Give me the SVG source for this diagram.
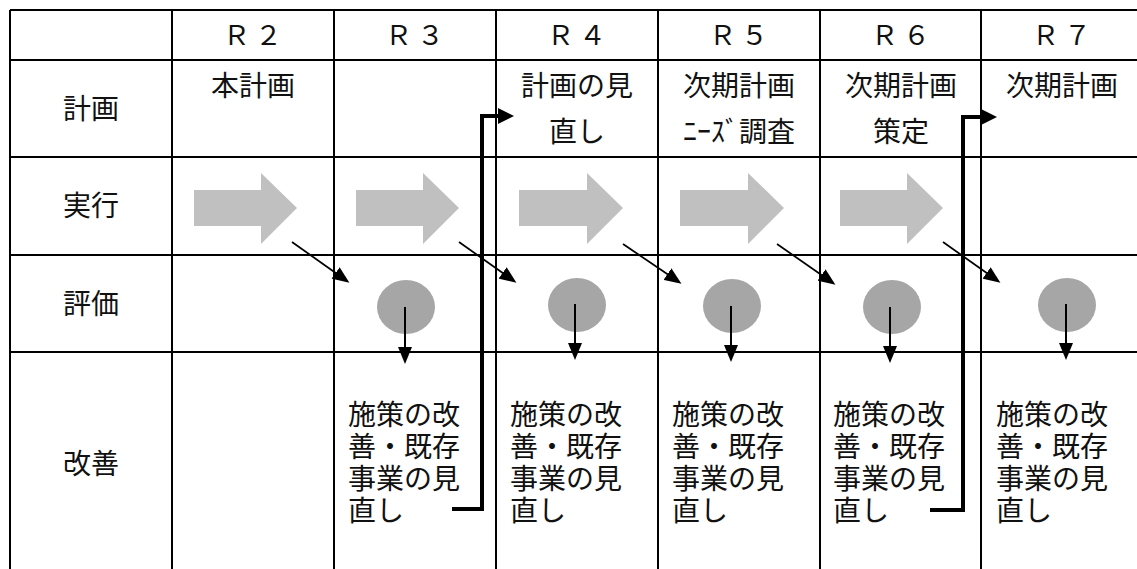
<svg xmlns="http://www.w3.org/2000/svg" width="1137" height="569" viewBox="0 0 1137 569">
<defs>
<style>
.grid{stroke:#000;stroke-width:2;fill:none}
.t{font-family:"Noto Sans CJK JP","Noto Sans",sans-serif;font-size:28px;fill:#111}
.c{text-anchor:middle}
.hd{font-family:"Noto Sans CJK JP","Noto Sans",sans-serif;font-size:27px;fill:#111;text-anchor:middle;letter-spacing:5px}
.ex{fill:#c0c0c0}
.ev{fill:#a6a6a6}
.thin{stroke:#000;stroke-width:1.75;fill:none;marker-end:url(#ah)}
.down{stroke:#000;stroke-width:2;fill:none;marker-end:url(#ah)}
.thick{stroke:#000;stroke-width:4;fill:none;marker-end:url(#bh)}
</style>
<marker id="ah" markerUnits="userSpaceOnUse" markerWidth="17" markerHeight="14" refX="14" refY="7" orient="auto"><path d="M0,0 L17,7 L0,14 z" fill="#000"/></marker>
<marker id="bh" markerUnits="userSpaceOnUse" markerWidth="16" markerHeight="16" refX="0" refY="8" orient="auto"><path d="M0,0 L16,8 L0,16 z" fill="#000"/></marker>
</defs>
<rect width="1137" height="569" fill="#fff"/>
<g id="table">
<path class="grid" d="M10,10 H1137 M10,60 H1137 M10,157 H1137 M10,255 H1137 M10,352 H1137 M10,10 V569 M172,10 V569 M334,10 V569 M496,10 V569 M658,10 V569 M820,10 V569 M981,10 V569"/>
</g>
<g id="header">
<text class="hd" x="255" y="45">Ｒ２</text>
<text class="hd" x="417" y="45">Ｒ３</text>
<text class="hd" x="579" y="45">Ｒ４</text>
<text class="hd" x="741" y="45">Ｒ５</text>
<text class="hd" x="903" y="45">Ｒ６</text>
<text class="hd" x="1064" y="45">Ｒ７</text>
</g>
<g id="row-labels">
<text class="t c" x="91" y="119">計画</text>
<text class="t c" x="91" y="216">実行</text>
<text class="t c" x="91" y="314">評価</text>
<text class="t c" x="91" y="474">改善</text>
</g>
<g id="plan">
<text class="t c" x="253" y="96">本計画</text>
<text class="t c" x="577" y="96">計画の見</text>
<text class="t c" x="577" y="142">直し</text>
<text class="t c" x="739" y="96">次期計画</text>
<text class="t c" x="739" y="142">ﾆｰｽﾞ調査</text>
<text class="t c" x="901" y="96">次期計画</text>
<text class="t c" x="901" y="142">策定</text>
<text class="t c" x="1062" y="96">次期計画</text>
</g>
<g id="execution">
<polygon class="ex" points="194,190 261,190 261,173 297,208 261,244 261,226 194,226"/>
<polygon class="ex" points="356,190 423,190 423,173 459,208 423,244 423,226 356,226"/>
<polygon class="ex" points="519,190 587,190 587,173 623,208 587,244 587,226 519,226"/>
<polygon class="ex" points="680,190 748,190 748,173 784,208 748,244 748,226 680,226"/>
<polygon class="ex" points="840,190 907,190 907,173 943,208 907,244 907,226 840,226"/>
</g>
<g id="evaluation">
<ellipse class="ev" cx="406" cy="307" rx="29" ry="27"/>
<ellipse class="ev" cx="577" cy="305" rx="29" ry="27"/>
<ellipse class="ev" cx="732" cy="306" rx="29" ry="27"/>
<ellipse class="ev" cx="892" cy="307" rx="29" ry="27"/>
<ellipse class="ev" cx="1067" cy="305" rx="29" ry="27"/>
</g>
<g id="improvement">
<text class="t" x="348"><tspan x="348" y="425">施策の改</tspan><tspan x="348" y="457">善・既存</tspan><tspan x="348" y="489">事業の見</tspan><tspan x="348" y="521">直し</tspan></text>
<text class="t" x="510"><tspan x="510" y="425">施策の改</tspan><tspan x="510" y="457">善・既存</tspan><tspan x="510" y="489">事業の見</tspan><tspan x="510" y="521">直し</tspan></text>
<text class="t" x="672"><tspan x="672" y="425">施策の改</tspan><tspan x="672" y="457">善・既存</tspan><tspan x="672" y="489">事業の見</tspan><tspan x="672" y="521">直し</tspan></text>
<text class="t" x="833"><tspan x="833" y="425">施策の改</tspan><tspan x="833" y="457">善・既存</tspan><tspan x="833" y="489">事業の見</tspan><tspan x="833" y="521">直し</tspan></text>
<text class="t" x="996"><tspan x="996" y="425">施策の改</tspan><tspan x="996" y="457">善・既存</tspan><tspan x="996" y="489">事業の見</tspan><tspan x="996" y="521">直し</tspan></text>
</g>
<g id="connectors">
<line class="thin" x1="292" y1="242" x2="347" y2="281"/>
<line class="thin" x1="459" y1="242" x2="514" y2="281"/>
<line class="thin" x1="623" y1="244" x2="679" y2="282"/>
<line class="thin" x1="777" y1="244" x2="833" y2="283"/>
<line class="thin" x1="943" y1="242" x2="998" y2="281"/>
<line class="down" x1="405" y1="307" x2="405" y2="361"/>
<line class="down" x1="575" y1="304" x2="575" y2="357"/>
<line class="down" x1="731" y1="306" x2="731" y2="359"/>
<line class="down" x1="890" y1="307" x2="890" y2="360"/>
<line class="down" x1="1066" y1="304" x2="1066" y2="357"/>
<path class="thick" d="M452,509 H482 V116 H498"/>
<path class="thick" d="M930,510 H963 V117 H981"/>
</g>
</svg>
